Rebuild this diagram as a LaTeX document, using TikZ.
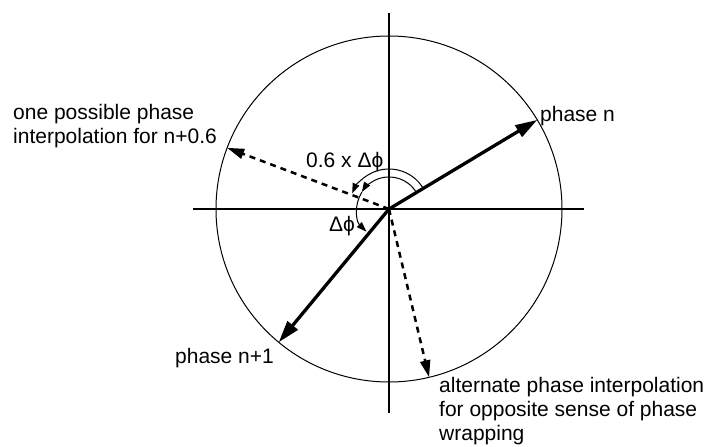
\documentclass[tikz,border=0pt]{standalone}
\usepackage{fontspec}
\setmainfont{Liberation Sans}
\usetikzlibrary{arrows.meta}
\begin{document}
\begin{tikzpicture}[x=1pt,y=1pt,
  lbl/.style={inner sep=0pt,font=\fontsize{21}{24}\selectfont},
  axisline/.style={line width=1.7pt},
  mainarrow/.style={line width=3.3pt,-{Triangle[length=22pt,width=13pt]}},
  dasharrow/.style={line width=2.5pt,dash pattern=on 6pt off 5pt,-{Triangle[length=17pt,width=10pt]}},
  arcarrow/.style={line width=1pt,-{Triangle[length=10pt,width=7pt]}}]
\useasboundingbox (-389,-238) rectangle (323,209);
\coordinate (O) at (0,0);
\coordinate (yt) at (0,196);
\coordinate (yb) at (0,-204);
\coordinate (xl) at (-196,0);
\coordinate (xr) at (195,0);
\coordinate (pn) at (31:173);
\coordinate (pn1) at (230.4:173);
\coordinate (p06) at (159.3:173);
\coordinate (palt) at (-76.6:173);
% circle and axes
\draw[line width=1pt] (O) circle (173);
\draw[axisline] (yt) -- (yb);
\draw[axisline] (xl) -- (xr);
% vectors
\draw[mainarrow] (O) -- (pn);
\draw[mainarrow] (O) -- (pn1);
\draw[dasharrow] (O) -- (p06);
\draw[dasharrow] (O) -- (palt);
% arcs
\draw[arcarrow] (31:40) arc[start angle=31,end angle=157,radius=40];
\draw[arcarrow] (30:32) arc[start angle=30,end angle=148,radius=32];
\draw[arcarrow] (148:32) arc[start angle=148,end angle=225,radius=32];
% labels
\node[lbl,anchor=base west] (l06) at (-83,41) {0.6 x Δϕ};
\node[lbl,anchor=base west] (ldp) at (-60,-22) {Δϕ};
\node[lbl,anchor=base west] (lpn) at (151,87) {phase n};
\node[lbl,anchor=base west] (lpn1) at (-214,-154) {phase n+1};
\node[lbl,anchor=base west,align=left] (lone) at (-376,65) {one possible phase\\interpolation for n+0.6};
\node[lbl,anchor=base west,align=left] (lalt) at (50,-231) {alternate phase interpolation\\for opposite sense of phase\\wrapping};
\end{tikzpicture}
\end{document}
